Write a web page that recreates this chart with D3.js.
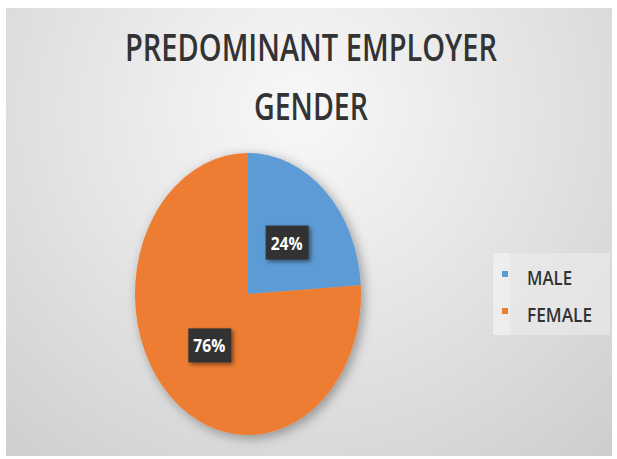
<!DOCTYPE html>
<html>
<head>
<meta charset="utf-8">
<title>Predominant Employer Gender</title>
<script src="https://d3js.org/d3.v7.min.js"></script>
<style>
    body { margin: 0; background: #fff; }
    svg { display: block; }
</style>
</head>
<body>
<svg width="617" height="459"></svg>
<script>
// chart data
var categories = ["MALE", "FEMALE"];
var values = [24, 76];
var sliceColors = ["#5b9bd5", "#ed7d31"];
var titleLines = ["PREDOMINANT EMPLOYER", "GENDER"];

var svg = d3.select("svg");
var defs = svg.append("defs");

// grey backdrop, lighter toward the top centre
var grad = defs.append("radialGradient")
    .attr("id", "bg")
    .attr("gradientUnits", "userSpaceOnUse")
    .attr("cx", 300).attr("cy", 110).attr("r", 470);
grad.append("stop").attr("offset", "0%").attr("stop-color", "#f8f8f8");
grad.append("stop").attr("offset", "40%").attr("stop-color", "#e8e8e8");
grad.append("stop").attr("offset", "100%").attr("stop-color", "#cdcdcd");

var shadow = defs.append("filter").attr("id", "shadow")
    .attr("x", "-30%").attr("y", "-30%").attr("width", "160%").attr("height", "160%");
shadow.append("feGaussianBlur").attr("in", "SourceAlpha").attr("stdDeviation", 6).attr("result", "b");
shadow.append("feOffset").attr("in", "b").attr("dx", 3).attr("dy", 3).attr("result", "o");
shadow.append("feComponentTransfer").attr("in", "o").attr("result", "s")
    .append("feFuncA").attr("type", "linear").attr("slope", 0.35);
var m = shadow.append("feMerge");
m.append("feMergeNode").attr("in", "s");
m.append("feMergeNode").attr("in", "SourceGraphic");

var boxShadow = defs.append("filter").attr("id", "boxShadow")
    .attr("x", "-30%").attr("y", "-30%").attr("width", "170%").attr("height", "170%");
boxShadow.append("feGaussianBlur").attr("in", "SourceAlpha").attr("stdDeviation", 2).attr("result", "b");
boxShadow.append("feOffset").attr("in", "b").attr("dx", 2).attr("dy", 2).attr("result", "o");
boxShadow.append("feComponentTransfer").attr("in", "o").attr("result", "s")
    .append("feFuncA").attr("type", "linear").attr("slope", 0.5);
var m2 = boxShadow.append("feMerge");
m2.append("feMergeNode").attr("in", "s");
m2.append("feMergeNode").attr("in", "SourceGraphic");

svg.append("rect")
    .attr("x", 6).attr("y", 8)
    .attr("width", 606).attr("height", 448)
    .attr("fill", "url(#bg)");

// title
var titleWidths = [372, 114];
svg.selectAll(".title")
    .data(titleLines)
    .enter()
    .append("text")
    .attr("class", "title")
    .attr("x", 311)
    .attr("y", function (d, i) { return 61 + i * 59; })
    .attr("text-anchor", "middle")
    .attr("textLength", function (d, i) { return titleWidths[i]; })
    .attr("lengthAdjust", "spacingAndGlyphs")
    .style("font-family", "'Open Sans', sans-serif")
    .style("font-weight", 600)
    .style("font-size", "37px")
    .style("fill", "#333333")
    .text(function (d) { return d; });

// pie, squashed horizontally into an ellipse
var cx = 248, cy = 294, ry = 141, rx = 113;
var sx = rx / ry;

var pie = d3.pie().sort(null).value(function (d) { return d; });
var arcs = pie(values);
var arc = d3.arc().innerRadius(0).outerRadius(ry);

var pieG = svg.append("g")
    .attr("transform", "translate(" + cx + "," + cy + ")")
    .attr("filter", "url(#shadow)");

pieG.append("g")
    .attr("transform", "scale(" + sx + ",1)")
    .selectAll("path")
    .data(arcs)
    .enter()
    .append("path")
    .attr("d", arc)
    .attr("fill", function (d, i) { return sliceColors[i]; });

// data labels
var labels = svg.selectAll(".lbl")
    .data(arcs)
    .enter()
    .append("g")
    .attr("class", "lbl")
    .attr("transform", function (d) {
        var c = arc.centroid(d);
        return "translate(" + (cx + c[0] * sx) + "," + (cy + c[1]) + ")";
    });

labels.append("rect")
    .attr("x", -21).attr("y", -17)
    .attr("width", 43).attr("height", 34)
    .attr("fill", "#333333")
    .attr("filter", "url(#boxShadow)");

labels.append("text")
    .attr("text-anchor", "middle")
    .attr("dy", 7)
    .attr("textLength", 32)
    .attr("lengthAdjust", "spacingAndGlyphs")
    .style("font-family", "'Open Sans', sans-serif")
    .style("font-weight", 700)
    .style("font-size", "18px")
    .style("fill", "#ffffff")
    .text(function (d) { return d.data + "%"; });

// legend
var legend = svg.append("g");
legend.append("rect")
    .attr("x", 493).attr("y", 253)
    .attr("width", 117).attr("height", 82)
    .attr("fill", "#ececec")
    .attr("opacity", 0.6);
legend.append("rect")
    .attr("x", 493).attr("y", 253)
    .attr("width", 17).attr("height", 82)
    .attr("fill", "#f2f2f2")
    .attr("opacity", 0.6);

var legendY = d3.scalePoint().domain(categories).range([277, 314]);
var legendWidths = [45, 65];

var items = legend.selectAll(".item")
    .data(categories)
    .enter()
    .append("g")
    .attr("class", "item")
    .attr("transform", function (d) { return "translate(0," + legendY(d) + ")"; });

items.append("rect")
    .attr("x", 502).attr("y", -6)
    .attr("width", 6).attr("height", 6)
    .attr("fill", function (d, i) { return sliceColors[i]; });

items.append("text")
    .attr("x", 527)
    .attr("y", 8)
    .attr("textLength", function (d, i) { return legendWidths[i]; })
    .attr("lengthAdjust", "spacingAndGlyphs")
    .style("font-family", "'Open Sans', sans-serif")
    .style("font-weight", 600)
    .style("font-size", "20px")
    .style("fill", "#333333")
    .text(function (d) { return d; });
</script>
</body>
</html>
